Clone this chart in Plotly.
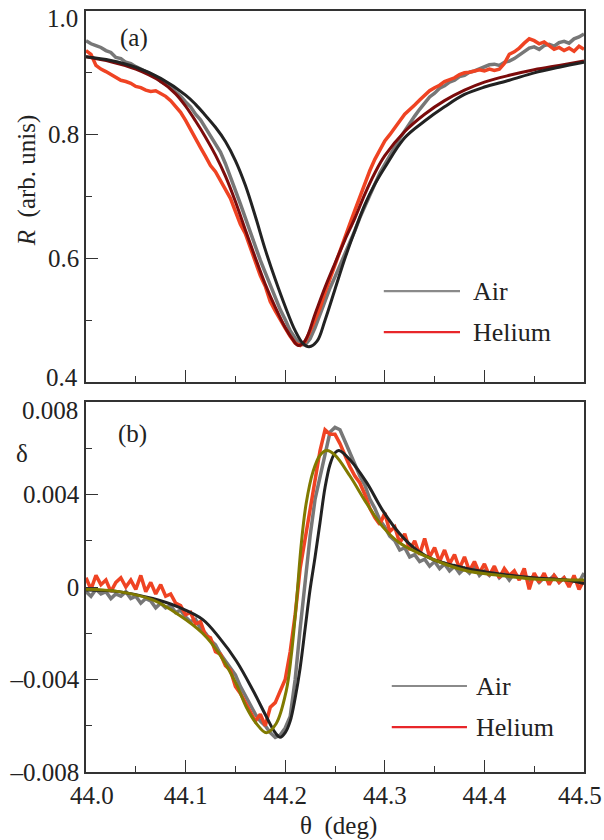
import plotly.graph_objects as go

# ---------------- data ----------------
THETA = [44.000, 44.005, 44.010, 44.015, 44.020, 44.025, 44.030, 44.035, 44.040, 44.045,
         44.050, 44.055, 44.060, 44.065, 44.070, 44.075, 44.080, 44.085, 44.090, 44.095,
         44.100, 44.105, 44.110, 44.115, 44.120, 44.125, 44.130, 44.135, 44.140, 44.145,
         44.150, 44.155, 44.160, 44.165, 44.170, 44.175, 44.180, 44.185, 44.190, 44.195,
         44.200, 44.205, 44.210, 44.215, 44.220, 44.225, 44.230, 44.235, 44.240, 44.245,
         44.250, 44.255, 44.260, 44.265, 44.270, 44.275, 44.280, 44.285, 44.290, 44.295,
         44.300, 44.305, 44.310, 44.315, 44.320, 44.325, 44.330, 44.335, 44.340, 44.345,
         44.350, 44.355, 44.360, 44.365, 44.370, 44.375, 44.380, 44.385, 44.390, 44.395,
         44.400, 44.405, 44.410, 44.415, 44.420, 44.425, 44.430, 44.435, 44.440, 44.445,
         44.450, 44.455, 44.460, 44.465, 44.470, 44.475, 44.480, 44.485, 44.490, 44.495,
         44.500]

# (a) reflectivity, measured
R_AIR = [0.952, 0.947, 0.944, 0.941, 0.936, 0.933, 0.925, 0.923, 0.917, 0.915,
         0.910, 0.906, 0.902, 0.898, 0.894, 0.886, 0.882, 0.877, 0.869, 0.862,
         0.853, 0.845, 0.833, 0.824, 0.811, 0.798, 0.786, 0.772, 0.753, 0.733,
         0.710, 0.688, 0.665, 0.641, 0.620, 0.597, 0.577, 0.556, 0.538, 0.517,
         0.501, 0.483, 0.471, 0.461, 0.460, 0.470, 0.488, 0.510, 0.532, 0.552,
         0.570, 0.589, 0.605, 0.626, 0.645, 0.666, 0.685, 0.704, 0.720, 0.738,
         0.752, 0.767, 0.780, 0.794, 0.806, 0.819, 0.830, 0.841, 0.851, 0.861,
         0.867, 0.875, 0.879, 0.885, 0.888, 0.894, 0.896, 0.901, 0.903, 0.906,
         0.909, 0.913, 0.914, 0.912, 0.917, 0.919, 0.923, 0.929, 0.935, 0.940,
         0.942, 0.938, 0.944, 0.946, 0.943, 0.949, 0.951, 0.948, 0.955, 0.958,
         0.963]
R_HEL = [0.936, 0.930, 0.912, 0.906, 0.902, 0.897, 0.893, 0.888, 0.886, 0.883,
         0.878, 0.876, 0.872, 0.870, 0.871, 0.866, 0.862, 0.855, 0.846, 0.836,
         0.823, 0.808, 0.792, 0.779, 0.765, 0.750, 0.740, 0.726, 0.712, 0.697,
         0.676, 0.655, 0.640, 0.617, 0.598, 0.572, 0.555, 0.530, 0.515, 0.500,
         0.487, 0.474, 0.463, 0.459, 0.465, 0.482, 0.500, 0.520, 0.545, 0.568,
         0.590, 0.612, 0.633, 0.656, 0.678, 0.700, 0.722, 0.742, 0.760, 0.775,
         0.790, 0.800, 0.812, 0.822, 0.833, 0.840, 0.848, 0.856, 0.863, 0.871,
         0.876, 0.880, 0.886, 0.889, 0.892, 0.897, 0.900, 0.901, 0.903, 0.905,
         0.903, 0.906, 0.904, 0.906, 0.915, 0.930, 0.934, 0.940, 0.948, 0.955,
         0.952, 0.947, 0.950, 0.944, 0.938, 0.941, 0.936, 0.940, 0.935, 0.943,
         0.938]

# (a) fits
FIT_AIR_T = [44.000, 44.025, 44.050, 44.075, 44.100, 44.110, 44.120, 44.130, 44.140, 44.150,
             44.160, 44.170, 44.180, 44.190, 44.200, 44.210, 44.218, 44.224, 44.232, 44.240,
             44.250, 44.260, 44.270, 44.280, 44.290, 44.300, 44.320, 44.340, 44.360, 44.380,
             44.400, 44.425, 44.450, 44.475, 44.500]
FIT_AIR_R = [0.926, 0.920, 0.909, 0.891, 0.864, 0.849, 0.831, 0.812, 0.789, 0.758,
             0.718, 0.668, 0.614, 0.566, 0.522, 0.483, 0.462, 0.457, 0.466, 0.500,
             0.550, 0.600, 0.645, 0.687, 0.720, 0.747, 0.795, 0.822, 0.845, 0.865,
             0.877, 0.888, 0.900, 0.909, 0.917]
FIT_HEL_T = [44.000, 44.025, 44.050, 44.075, 44.090, 44.100, 44.110, 44.120, 44.130, 44.140,
             44.150, 44.160, 44.170, 44.180, 44.190, 44.200, 44.207, 44.213, 44.220, 44.230,
             44.240, 44.250, 44.260, 44.270, 44.280, 44.290, 44.300, 44.320, 44.340, 44.360,
             44.380, 44.400, 44.425, 44.450, 44.475, 44.500]
FIT_HEL_R = [0.926, 0.918, 0.906, 0.886, 0.866, 0.846, 0.822, 0.796, 0.767, 0.733,
             0.692, 0.646, 0.601, 0.558, 0.521, 0.488, 0.470, 0.459, 0.467, 0.510,
             0.553, 0.592, 0.630, 0.665, 0.704, 0.738, 0.766, 0.805, 0.833, 0.855,
             0.872, 0.885, 0.896, 0.905, 0.912, 0.919]

# (b) delta, measured
D_AIR = [-0.0002, -0.0004, -0.0001, -0.0003, -0.0002, -0.0005, -0.0003, -0.0004, -0.0002, -0.0005,
         -0.0004, -0.0007, -0.0005, -0.0006, -0.0009, -0.0007, -0.0009, -0.0008, -0.0011, -0.0010,
         -0.0013, -0.0015, -0.0014, -0.0018, -0.0020, -0.0023, -0.0025, -0.0029, -0.0032, -0.0035,
         -0.0038, -0.0043, -0.0047, -0.0051, -0.0055, -0.0058, -0.0060, -0.0063, -0.0065, -0.0064,
         -0.0061, -0.0056, -0.0040, -0.0018, 0.0003, 0.0022, 0.0038, 0.0048, 0.0058, 0.0067,
         0.0069, 0.0068, 0.0063, 0.0058, 0.0053, 0.0048, 0.0044, 0.0038, 0.0034, 0.0029,
         0.0026, 0.0022, 0.0020, 0.0016, 0.0017, 0.0013, 0.0014, 0.0011, 0.0012, 0.0009,
         0.0011, 0.0008, 0.0010, 0.0007, 0.0009, 0.0006, 0.0008, 0.0006, 0.0009, 0.0005,
         0.0007, 0.0005, 0.0008, 0.0004, 0.0006, 0.0003, 0.0006, 0.0004, 0.0005, 0.0003,
         0.0005, 0.0002, 0.0004, 0.0003, 0.0005, 0.0002, 0.0004, 0.0001, 0.0003, 0.0002,
         0.0006]
D_HEL = [0.0004, -0.0001, 0.0005, 0.0001, 0.0003, -0.0002, 0.0002, 0.0004, 0.0000, 0.0003,
         -0.0001, 0.0005, -0.0002, 0.0002, -0.0003, 0.0001, -0.0004, -0.0003, -0.0007, -0.0008,
         -0.0012, -0.0011, -0.0016, -0.0015, -0.0021, -0.0022, -0.0028, -0.0029, -0.0034, -0.0036,
         -0.0043, -0.0046, -0.0050, -0.0054, -0.0058, -0.0055, -0.0060, -0.0052, -0.0050, -0.0045,
         -0.0040, -0.0028, -0.0012, 0.0008, 0.0021, 0.0033, 0.0047, 0.0059, 0.0068, 0.0066,
         0.0066, 0.0062, 0.0057, 0.0052, 0.0048, 0.0045, 0.0040, 0.0034, 0.0030, 0.0027,
         0.0032, 0.0024, 0.0026, 0.0019, 0.0023, 0.0016, 0.0020, 0.0014, 0.0021, 0.0013,
         0.0017, 0.0011, 0.0016, 0.0010, 0.0014, 0.0008, 0.0013, 0.0007, 0.0011, 0.0006,
         0.0010, 0.0005, 0.0009, 0.0004, 0.0008, 0.0005, 0.0007, 0.0003, 0.0008, -0.0001,
         0.0006, 0.0002, 0.0006, 0.0001, 0.0005, 0.0002, 0.0004, 0.0000, 0.0005, -0.0001,
         0.0003]

# (b) fits
DFIT_AIR_T = [44.000, 44.033, 44.067, 44.093, 44.117, 44.134, 44.151, 44.168, 44.181, 44.190,
              44.195, 44.200, 44.205, 44.210, 44.215, 44.220, 44.225, 44.230, 44.235, 44.240,
              44.245, 44.250, 44.254, 44.265, 44.282, 44.298, 44.315, 44.332, 44.348, 44.382,
              44.416, 44.449, 44.482, 44.500]
DFIT_AIR_D = [-0.00013, -0.0002, -0.0005, -0.00087, -0.0014, -0.0022, -0.0032, -0.0045, -0.0056, -0.0063,
              -0.0065, -0.0063, -0.0058, -0.0048, -0.0035, -0.0018, -0.0001, 0.0013, 0.0028, 0.0043,
              0.0053, 0.0058, 0.0059, 0.0055, 0.0045, 0.0033, 0.0023, 0.0016, 0.0012, 0.0008,
              0.00056, 0.0004, 0.0003, 0.00015]
DFIT_HEL_T = [44.000, 44.033, 44.067, 44.093, 44.117, 44.134, 44.151, 44.161, 44.171, 44.181,
              44.191, 44.201, 44.206, 44.211, 44.216, 44.221, 44.228, 44.235, 44.242, 44.250,
              44.265, 44.282, 44.298, 44.315, 44.348, 44.382, 44.416, 44.449, 44.500]
DFIT_HEL_D = [-0.0001, -0.0002, -0.00056, -0.0012, -0.0020, -0.0029, -0.0042, -0.0052, -0.0059, -0.0063,
              -0.0059, -0.0045, -0.0030, -0.0008, 0.0018, 0.0036, 0.0050, 0.0057, 0.0059, 0.0057,
              0.0048, 0.0036, 0.0026, 0.0019, 0.0012, 0.0007, 0.0005, 0.00035, 0.0003]

X_TICKS = [44.0, 44.1, 44.2, 44.3, 44.4, 44.5]
X_TICKTEXT = ["", "44.1", "44.2", "44.3", "44.4", ""]    # end labels placed as nudged labels below
R_TICKS = [0.4, 0.6, 0.8, 1.0]
R_TICKTEXT = ["", "0.6", "0.8", ""]
D_TICKS = [-0.008, -0.004, 0.0, 0.004, 0.008]
D_TICKTEXT = ["\u20130.008", "\u20130.004", "0", "0.004", ""]
SERIES_NAMES = ["Air", "Helium"]

# ---------------- styling ----------------
FONT = "Liberation Serif, Times New Roman, serif"
FS = 25
C_GRAY = "#777777"
C_RED = "#ef4323"
C_BLACK = "#222222"
C_DRED = "#7c0b0b"
C_OLIVE = "#807a00"
C_AX = "#333333"
C_TXT = "#222222"

fig = go.Figure()

# panel (a)
fig.add_trace(go.Scatter(x=THETA, y=R_AIR, mode="lines", line=dict(color=C_GRAY, width=3.5),
                         xaxis="x", yaxis="y", showlegend=False))
fig.add_trace(go.Scatter(x=THETA, y=R_HEL, mode="lines", line=dict(color=C_RED, width=3.5),
                         xaxis="x", yaxis="y", showlegend=False))
fig.add_trace(go.Scatter(x=FIT_HEL_T, y=FIT_HEL_R, mode="lines", line=dict(color=C_DRED, width=3, shape="spline"),
                         xaxis="x", yaxis="y", showlegend=False))
fig.add_trace(go.Scatter(x=FIT_AIR_T, y=FIT_AIR_R, mode="lines", line=dict(color=C_BLACK, width=3, shape="spline"),
                         xaxis="x", yaxis="y", showlegend=False))

# panel (b)
fig.add_trace(go.Scatter(x=THETA, y=D_AIR, mode="lines", line=dict(color=C_GRAY, width=3.5),
                         xaxis="x2", yaxis="y2", showlegend=False))
fig.add_trace(go.Scatter(x=THETA, y=D_HEL, mode="lines", line=dict(color=C_RED, width=3.5),
                         xaxis="x2", yaxis="y2", showlegend=False))
fig.add_trace(go.Scatter(x=DFIT_AIR_T, y=DFIT_AIR_D, mode="lines", line=dict(color=C_BLACK, width=3, shape="spline"),
                         xaxis="x2", yaxis="y2", showlegend=False))
fig.add_trace(go.Scatter(x=DFIT_HEL_T, y=DFIT_HEL_D, mode="lines", line=dict(color=C_OLIVE, width=3, shape="spline"),
                         xaxis="x2", yaxis="y2", showlegend=False))

tickfont = dict(family=FONT, size=FS, color=C_TXT)

def xax(anchor, labels):
    return dict(domain=[0, 1], anchor=anchor, range=[44.0, 44.5], automargin=False,
                tickvals=X_TICKS, ticktext=X_TICKTEXT, showticklabels=labels,
                ticklabeloverflow="allow",
                ticks="inside", ticklen=12, tickwidth=1.3, tickcolor=C_AX,
                minor=dict(ticks="inside", ticklen=6, tickwidth=1.3, tickcolor=C_AX,
                           tick0=44.0, dtick=0.05),
                showline=True, linecolor=C_AX, linewidth=1.6, mirror=True,
                showgrid=False, zeroline=False, tickfont=tickfont)

def yax(anchor, domain, rng, tv, tt, mdt):
    return dict(domain=domain, anchor=anchor, range=rng, tickvals=tv, ticktext=tt,
                automargin=False, ticklabeloverflow="allow",
                ticks="inside", ticklen=12, tickwidth=1.3, tickcolor=C_AX,
                minor=dict(ticks="inside", ticklen=6, tickwidth=1.3, tickcolor=C_AX,
                           tick0=0, dtick=mdt),
                showline=True, linecolor=C_AX, linewidth=1.6, mirror=True,
                showgrid=False, zeroline=False, tickfont=tickfont, ticklabelstandoff=0)

fig.update_layout(
    width=604, height=840,
    margin=dict(l=86, r=20, t=11, b=68),
    paper_bgcolor="white", plot_bgcolor="white",
    showlegend=False,
    xaxis=xax("y", False),
    xaxis2=xax("y2", True),
    yaxis=yax("x", [0.5125, 1.0], [0.4, 1.0], R_TICKS, R_TICKTEXT, 0.1),
    yaxis2=yax("x2", [0.0, 0.4862], [-0.008, 0.008], D_TICKS, D_TICKTEXT, 0.002),
)

# nudged end-of-axis tick labels (as in the original, to keep them apart)
for yref, val, txtv, shift in [("y", 1.0, "1.0", -7), ("y", 0.4, "0.4", 4), ("y2", 0.008, "0.008", -8)]:
    fig.add_annotation(xref="x domain", yref=yref, x=0, y=val, text=txtv, showarrow=False,
                       xanchor="right", yanchor="middle", xshift=-6, yshift=shift,
                       font=tickfont)
for val, txtv, shift in [(X_TICKS[0], "44.0", 6), (X_TICKS[-1], "44.5", -4)]:
    fig.add_annotation(xref="x2", yref="y2 domain", x=val, y=0, text=txtv, showarrow=False,
                       xanchor="center", yanchor="top", xshift=shift, yshift=-8,
                       font=tickfont)

txt = dict(family=FONT, size=FS, color=C_TXT)
ann = [
    dict(x=0.096, y=0.9645, text="(a)"),
    dict(x=0.094, y=0.444, text="(b)"),
    dict(x=-0.1285, y=0.418, text="\u03b4"),
    dict(x=0.508, y=-0.071, text="\u03b8  (deg)"),
    dict(x=-0.118, y=0.778, text="<i>R</i>  (arb. unis)", textangle=-90),
]
for a in ann:
    fig.add_annotation(xref="paper", yref="paper", showarrow=False, font=txt,
                       xanchor="center", yanchor="middle", **a)

# legends (keys drawn in paper space)
LEG = [
    (0.598, 0.751, 0.773, 0.632, 0.578),
    (0.614, 0.765, 0.779, 0.113, 0.059),
]
for x0, x1, xt, yg, yr in LEG:
    for yy, col, name in [(yg, "#8a8a8a", SERIES_NAMES[0]), (yr, "#e8262a", SERIES_NAMES[1])]:
        fig.add_shape(type="line", xref="paper", yref="paper", x0=x0, x1=x1, y0=yy, y1=yy,
                      line=dict(color=col, width=2.2))
        fig.add_annotation(xref="paper", yref="paper", x=xt, y=yy, text=name, showarrow=False,
                           xanchor="left", yanchor="middle",
                           font=dict(family=FONT, size=26, color=C_TXT))

fig.write_html("out.html", config={"displayModeBar": False},
               post_script="document.body.style.margin='0';")
